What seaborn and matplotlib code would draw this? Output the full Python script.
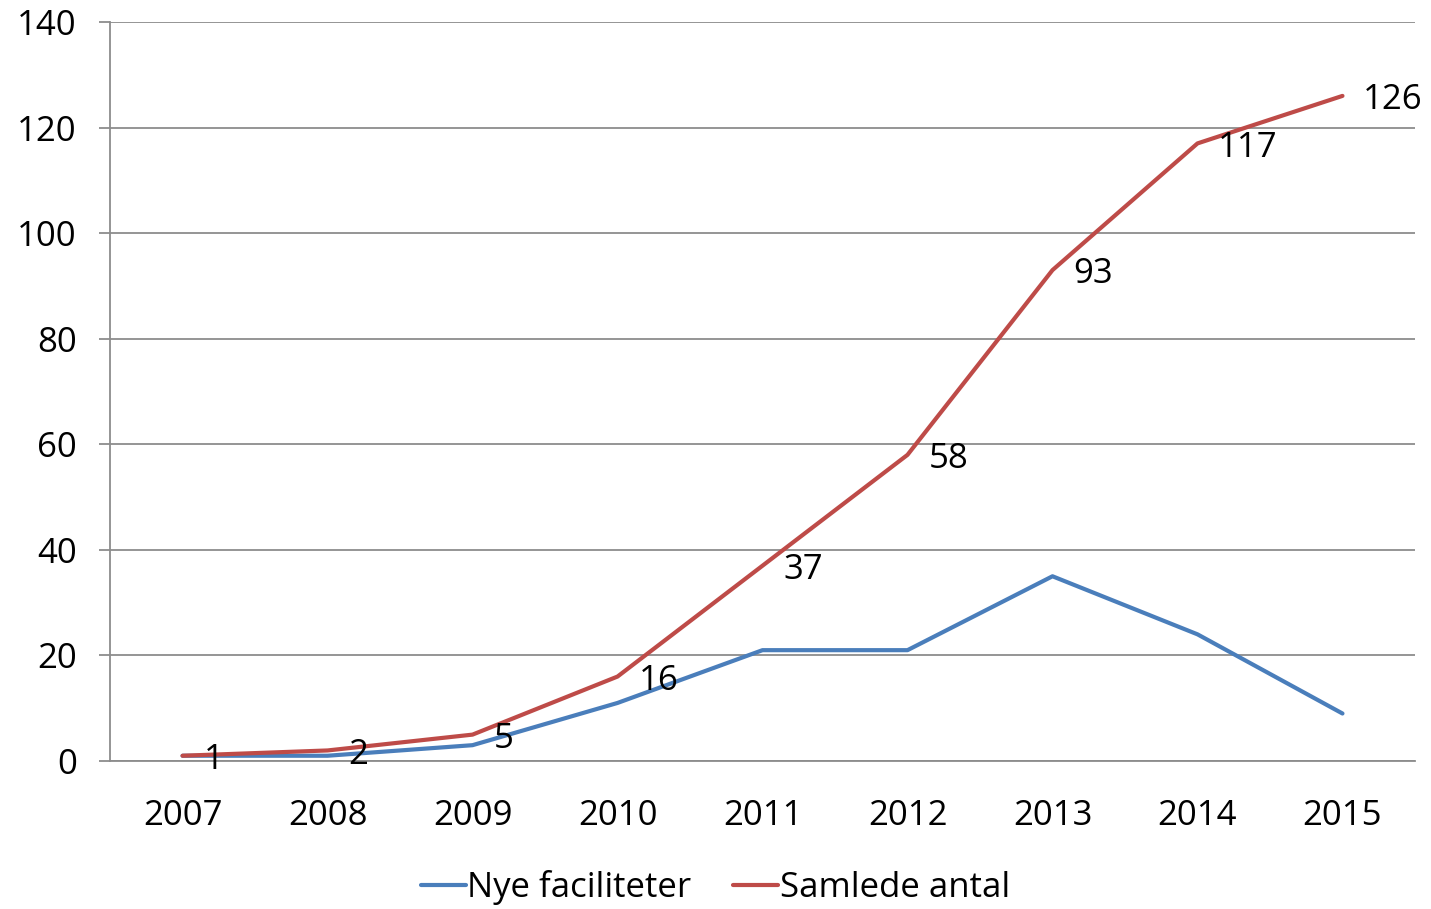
import numpy as np
import pandas as pd
import matplotlib.pyplot as plt
import seaborn as sns
from matplotlib.lines import Line2D

years = ["2007", "2008", "2009", "2010", "2011", "2012", "2013", "2014", "2015"]
nye = [1, 1, 3, 11, 21, 21, 35, 24, 9]
samlede = [1, 2, 5, 16, 37, 58, 93, 117, 126]

sns.set_theme(style="white")
plt.rcParams["font.family"] = ["Open Sans", "DejaVu Sans"]

pos = np.arange(len(years))
df = pd.DataFrame({
    "pos": np.concatenate([pos, pos]),
    "value": nye + samlede,
    "serie": ["Nye faciliteter"] * len(years) + ["Samlede antal"] * len(years),
})

fig = plt.figure(figsize=(14.31, 9.09), dpi=100)
ax = fig.add_axes([0.0769, 0.1628, 0.9119, 0.813])

sns.lineplot(data=df, x="pos", y="value", hue="serie",
             palette=["#4a7ebb", "#be4b48"], linewidth=3, ax=ax, legend=False)

# labels for the total series only
for x, v in zip(pos, samlede):
    ax.annotate(str(v), (x, v), xytext=(15, -3), textcoords="offset points",
                ha="left", va="center", fontsize=25, color="black")

ax.set_xlim(-0.5, len(years) - 0.5)
ax.set_ylim(0, 140)
ax.set_yticks(range(0, 141, 20))
ax.set_xticks(pos)
ax.set_xticklabels(years)
ax.set_xticks(np.arange(-0.5, len(years), 1), minor=True)
ax.set_xlabel("")
ax.set_ylabel("")

ax.yaxis.grid(True, color="#8c8c8c", linewidth=1.3)
ax.set_axisbelow(True)
for s in ["top", "right"]:
    ax.spines[s].set_visible(False)
for s in ["left", "bottom"]:
    ax.spines[s].set_color("#8c8c8c")
    ax.spines[s].set_linewidth(1.3)

ax.tick_params(axis="x", which="major", length=0, pad=27, labelsize=25, labelcolor="black")
ax.tick_params(axis="x", which="minor", length=8, color="#8c8c8c", width=1.3, direction="out")
ax.tick_params(axis="y", length=8, color="#8c8c8c", width=1.3, pad=16, labelsize=25,
               labelcolor="black", left=True)

handles = [Line2D([], [], color="#4a7ebb", linewidth=3),
           Line2D([], [], color="#be4b48", linewidth=3)]
fig.legend(handles, ["Nye faciliteter", "Samlede antal"], loc="center",
           bbox_to_anchor=(0.5, 0.024), ncol=2, frameon=False, fontsize=25,
           handlelength=1.3, handletextpad=0.05, columnspacing=1.2,
           labelcolor="black")

fig.savefig("out.png", dpi=100)
